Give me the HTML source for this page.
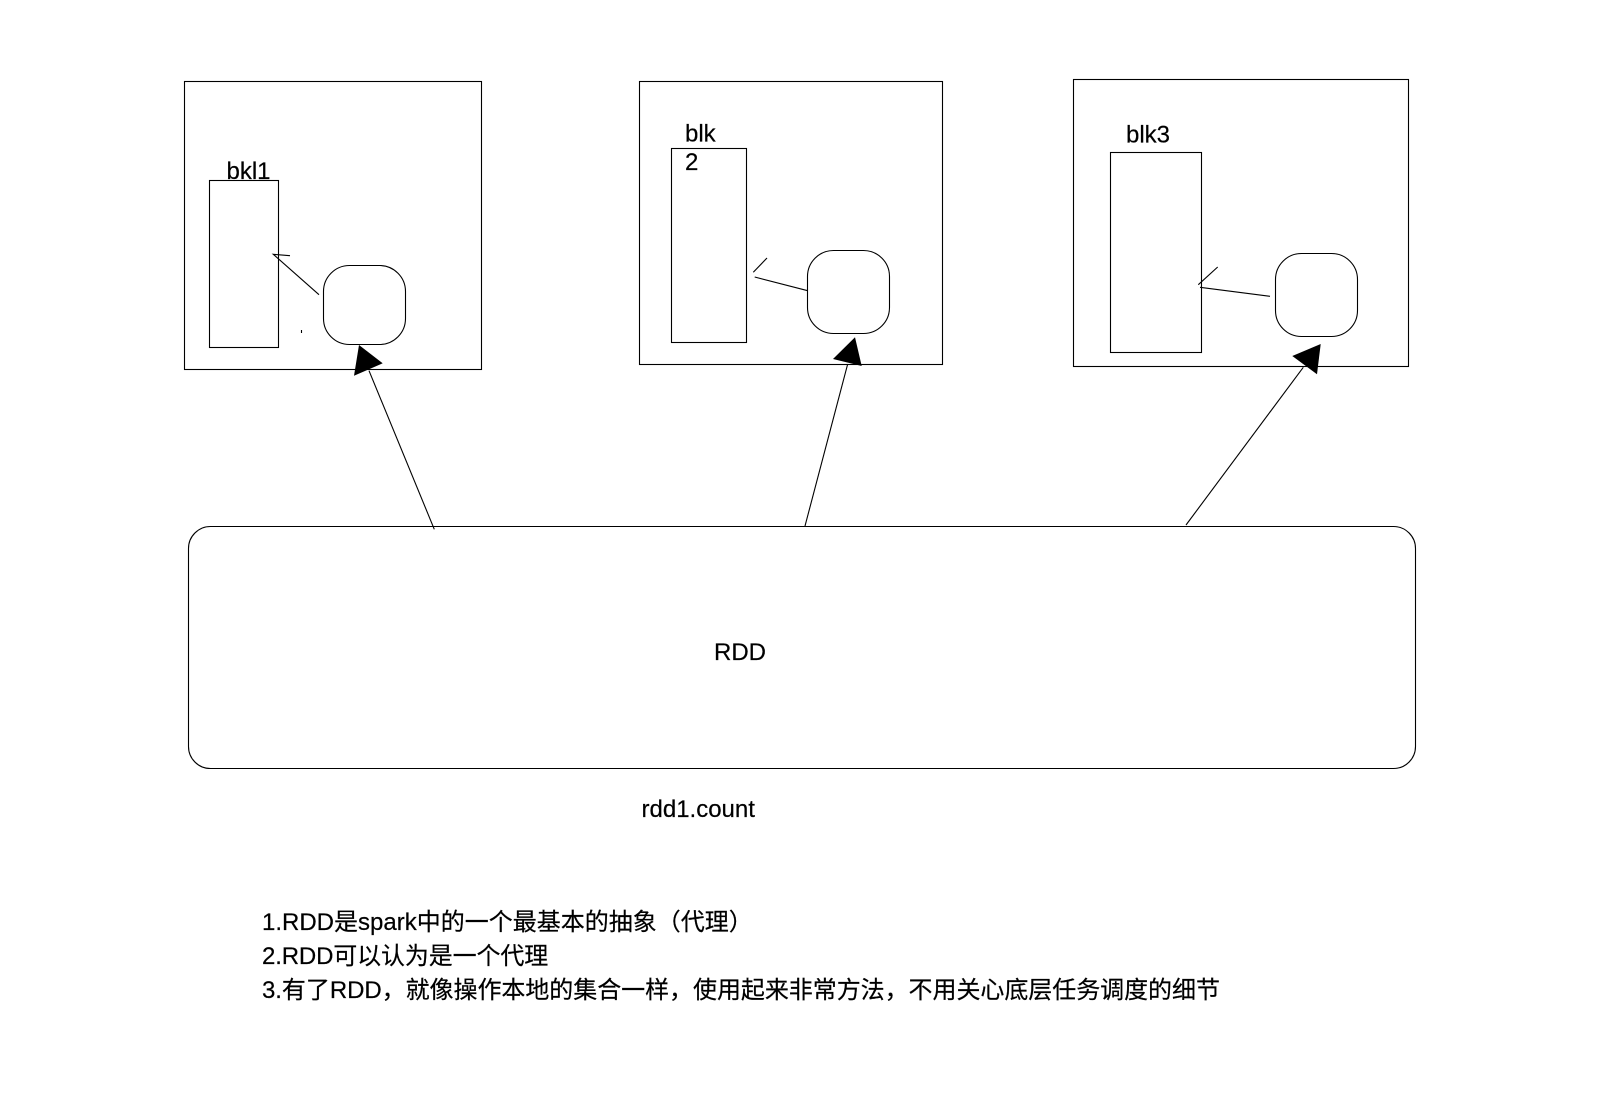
<!DOCTYPE html>
<html><head><meta charset="utf-8"><style>
html,body{margin:0;padding:0;background:#fff}
svg{display:block}
text{font-family:"Liberation Sans","Noto Sans CJK SC",sans-serif;font-size:24px;fill:#000;stroke:#000;stroke-width:.2}
.s{fill:none;stroke:#000;stroke-width:1.1}
</style></head><body>
<svg width="1600" height="1104" viewBox="0 0 1600 1104" xmlns="http://www.w3.org/2000/svg">
<rect width="1600" height="1104" fill="#fff"/>
<rect class="s" x="184.5" y="81.5" width="297" height="288"/>
<rect class="s" x="209.5" y="180.5" width="69" height="167"/>
<rect class="s" x="323.5" y="265.5" width="82" height="79" rx="26" ry="26"/>
<path class="s" d="M319 294.7L273.3 254.3L290 255.7"/>
<path class="s" d="M301.5 330V333"/>
<text x="226.5" y="179">bkl1</text>
<rect class="s" x="639.5" y="81.5" width="303" height="283"/>
<rect class="s" x="671.5" y="148.5" width="75" height="194"/>
<rect class="s" x="807.5" y="250.5" width="82" height="83" rx="26" ry="26"/>
<path class="s" d="M807.7 290.7L754.7 277"/>
<path class="s" d="M753.3 272.3L767 258"/>
<text x="685" y="141.5">blk</text>
<text x="685" y="170">2</text>
<rect class="s" x="1073.5" y="79.5" width="335" height="287"/>
<rect class="s" x="1110.5" y="152.5" width="91" height="200"/>
<rect class="s" x="1275.5" y="253.5" width="82" height="83" rx="26" ry="26"/>
<path class="s" d="M1270 296.3L1200 287.3"/>
<path class="s" d="M1198.3 284.7L1217.7 267"/>
<text x="1126" y="142.5">blk3</text>
<rect class="s" x="188.5" y="526.5" width="1227" height="242" rx="22" ry="22"/>
<path class="s" d="M434.3 529.3L369 370.7"/>
<polygon points="359,345 382.7,363.3 354,375.7" fill="#000"/>
<path class="s" d="M805 526L847.7 364"/>
<polygon points="855,337.3 861.7,366 833,359" fill="#000"/>
<path class="s" d="M1186 525L1303.3 367.3"/>
<polygon points="1320.7,344 1317,374.3 1292.3,356" fill="#000"/>
<text x="714" y="660">RDD</text>
<text x="641.5" y="817">rdd1.count</text>
<text x="262" y="930">1.RDD是spark中的一个最基本的抽象（代理）</text>
<text x="262" y="964" style="letter-spacing:-.14px">2.RDD可以认为是一个代理</text>
<text x="262" y="998" style="letter-spacing:-.05px">3.有了RDD，就像操作本地的集合一样，使用起来非常方法，不用关心底层任务调度的细节</text>
</svg>
</body></html>
